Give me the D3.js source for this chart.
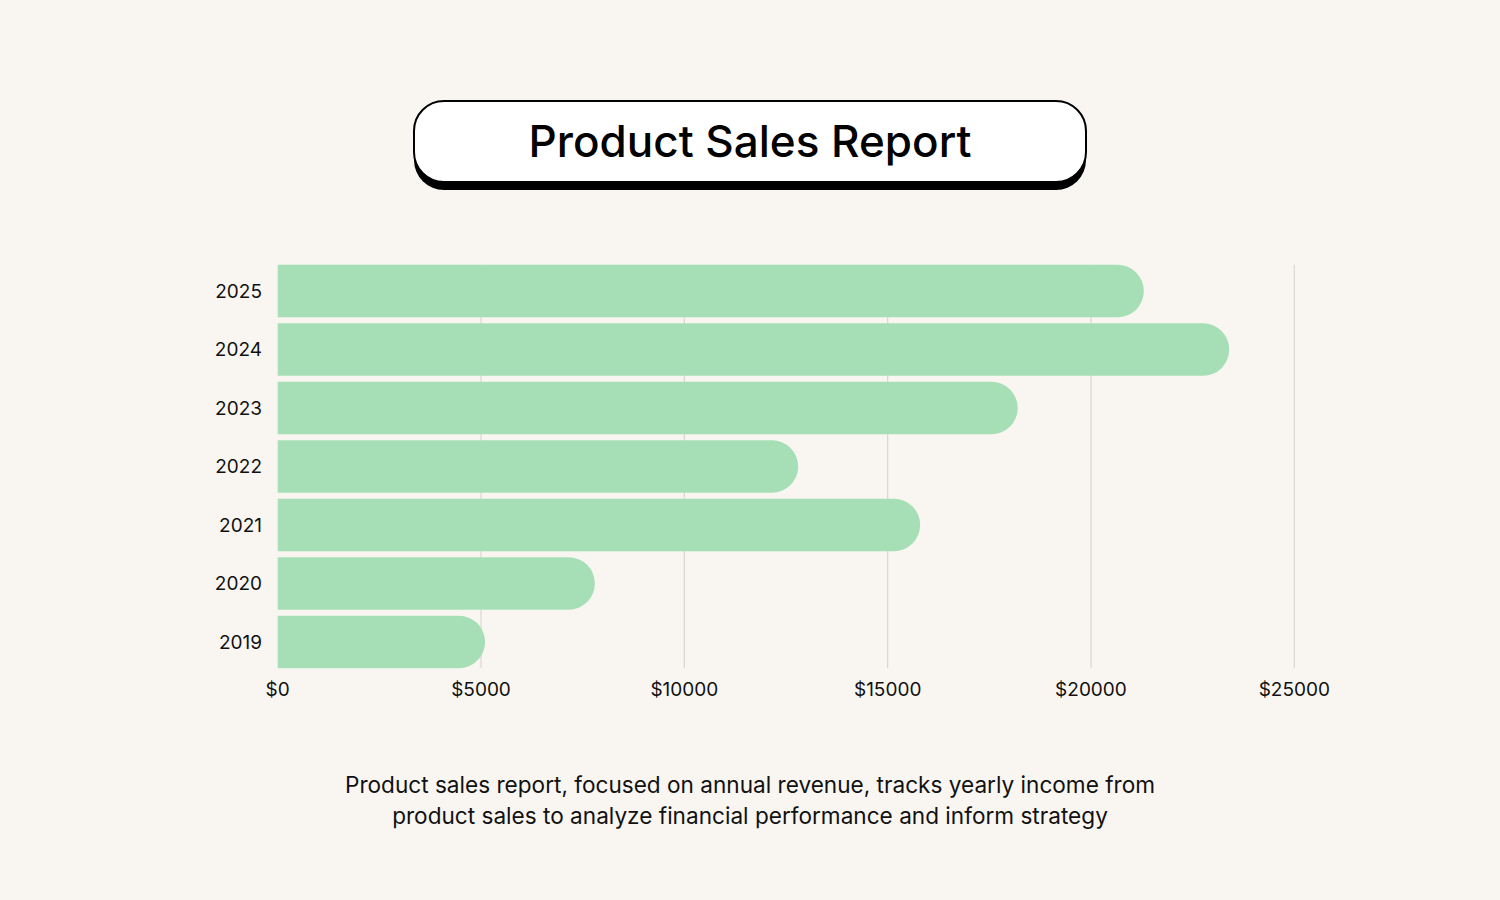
<!DOCTYPE html>
<html><head><meta charset="utf-8">
<script src="https://cdn.jsdelivr.net/npm/d3@7"></script>
<style>
html,body{margin:0;padding:0;background:#f9f6f1;}
svg{display:block;}
</style></head>
<body>
<svg id="chart" width="1500" height="900"></svg>
<script>
const years = ["2025","2024","2023","2022","2021","2020","2019"];
const sales = [21300, 23400, 18200, 12800, 15800, 7800, 5100];
const tickValues = [0, 5000, 10000, 15000, 20000, 25000];
const tickLabels = ["$0","$5000","$10000","$15000","$20000","$25000"];
const titleText = "Product Sales Report";
const descLines = ["Product sales report, focused on annual revenue, tracks yearly income from",
                   "product sales to analyze financial performance and inform strategy"];

const svg = d3.select("#chart");
const font = "Inter, 'Noto Sans', sans-serif";
svg.append("rect").attr("width",1500).attr("height",900).attr("fill","#f9f6f1");

// Title box
const bx=414, by=101, bw=672, bh=81, br=30;
svg.append("rect").attr("x",bx).attr("y",by+8).attr("width",bw).attr("height",bh)
  .attr("rx",br).attr("fill","#000");
svg.append("rect").attr("x",bx).attr("y",by).attr("width",bw).attr("height",bh)
  .attr("rx",br).attr("fill","#fff").attr("stroke","#000").attr("stroke-width",2);
svg.append("text").attr("x",750).attr("y",157).attr("text-anchor","middle")
  .attr("font-family",font).attr("font-size",44).attr("font-weight",500).attr("fill","#000")
  .text(titleText);

const x = d3.scaleLinear().domain([0,25000]).range([277.7,1294.3]);
const y = d3.scaleBand().domain(years).range([264.7,668.3]).paddingInner(0.1).paddingOuter(0);

// gridlines
svg.append("g").selectAll("line").data(tickValues.slice(1)).join("line")
  .attr("x1",d=>x(d)).attr("x2",d=>x(d)).attr("y1",264.7).attr("y2",668.3)
  .attr("stroke","#d9d6d1").attr("stroke-width",1.2);

// bars: square left, round right
const bh2 = y.bandwidth(), r = bh2/2;
svg.append("g").selectAll("path").data(years).join("path")
  .attr("fill","#a6dfb5")
  .attr("d",(d,i)=>{
    const x0=x(0), x1=x(sales[i]), y0=y(d);
    const xr = Math.max(x0, x1 - r);
    return `M${x0},${y0}H${xr}A${r},${r} 0 0 1 ${xr},${y0+bh2}H${x0}Z`;
  });

// y labels
svg.append("g").selectAll("text").data(years).join("text")
  .attr("x",262).attr("y",d=>y(d)+bh2/2).attr("dy","0.35em").attr("text-anchor","end")
  .attr("font-family",font).attr("font-size",19).attr("fill","#111").text(d=>d);

// x labels
svg.append("g").selectAll("text").data(tickValues).join("text")
  .attr("x",d=>x(d)).attr("y",696).attr("text-anchor","middle")
  .attr("font-family",font).attr("font-size",19).attr("fill","#111")
  .text((d,i)=>tickLabels[i]);

// description
svg.append("g").selectAll("text").data(descLines).join("text")
  .attr("x",750).attr("y",(d,i)=>793+i*31).attr("text-anchor","middle")
  .attr("font-family",font).attr("font-size",22.6).attr("fill","#111").text(d=>d);
</script>
</body></html>
